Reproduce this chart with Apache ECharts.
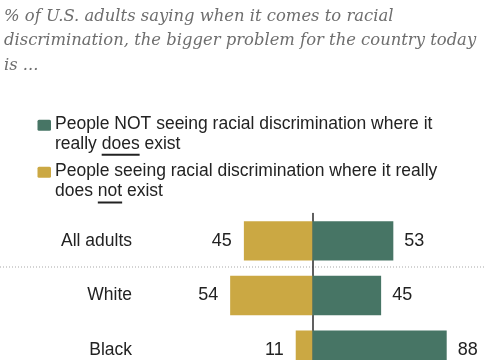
<!DOCTYPE html>
<html><head><meta charset="utf-8">
<script src="https://cdn.jsdelivr.net/npm/echarts@6/dist/echarts.min.js"></script>
<style>html,body{margin:0;padding:0;background:#fff}#c{width:485px;height:360px}</style>
</head><body><div id="c"></div>
<script>
// ---- data ----
const categories = ['All adults', 'White', 'Black'];
const notSeeing = [53, 45, 88];   // green: NOT seeing discrimination where it does exist
const seeing = [45, 54, 11];      // gold: seeing discrimination where it does not exist
const titleLines = [
  '% of U.S. adults saying when it comes to racial',
  'discrimination, the bigger problem for the country today',
  'is ...'
];
const legendNotSeeing = ['People NOT seeing racial discrimination where it', 'really ', 'does', ' exist'];
const legendSeeing = ['People seeing racial discrimination where it really', 'does ', 'not', ' exist'];

// ---- styles ----
const GREEN = '#477565', GOLD = '#cba843', INK = '#222';
const SANS = '"Liberation Sans", Arial, sans-serif';
const SERIF = '"DejaVu Serif", Georgia, serif';

const ctx = document.createElement('canvas').getContext('2d');
function tw(text, font) { ctx.font = font; return ctx.measureText(text).width; }

const titleFs = Math.round(16 * 473 / tw(titleLines[1], 'italic 16px ' + SERIF) * 10) / 10;
const LEG_FS = 17.5;
const legFont = LEG_FS + 'px ' + SANS;
const LEG_X = 55;

function legendItem(lines, color, top, underlineY) {
  const ux = LEG_X + tw(lines[1], legFont);
  const uw = tw(lines[2], legFont);
  return [
    { type: 'rect', left: 37.5, top: top + 5.5, shape: { width: 13.5, height: 11, r: 1.5 }, style: { fill: color } },
    { type: 'text', x: LEG_X, y: top, style: {
        text: lines[0] + '\n' + lines[1] + lines[2] + lines[3],
        font: legFont, lineHeight: 20, fill: INK, verticalAlign: 'top', align: 'left' } },
    { type: 'line', shape: { x1: ux, y1: underlineY, x2: ux + uw, y2: underlineY }, style: { stroke: INK, lineWidth: 2 } }
  ];
}

const chart = echarts.init(document.getElementById('c'), null, { renderer: 'canvas' });
chart.setOption({
  backgroundColor: '#fff',
  animation: false,
  title: {
    text: titleLines.join('\n'),
    left: 4, top: 4.25, padding: 0,
    textStyle: { fontFamily: SERIF, fontStyle: 'italic', fontWeight: 'normal', fontSize: titleFs, lineHeight: 24.5, color: '#6e6e6e' }
  },
  graphic: [
    ...legendItem(legendNotSeeing, GREEN, 114.2, 154.7),
    ...legendItem(legendSeeing, GOLD, 161.2, 202.5),
    { type: 'line', shape: { x1: 0, y1: 267, x2: 485, y2: 267 }, style: { stroke: '#a8a8a8', lineWidth: 1.2, lineDash: [1, 2] } }
  ],
  grid: { left: 160, right: 20, top: 213.5, height: 164, containLabel: false, outerBoundsMode: 'none' },
  xAxis: { type: 'value', min: -100, max: 100, show: false, splitLine: { show: false } },
  yAxis: [
    {
      type: 'category', data: categories, inverse: true, position: 'left',
      axisLine: { show: false, onZero: false },
      axisTick: { show: false },
      axisLabel: { margin: 28, fontFamily: SANS, fontSize: 17.5, color: INK }
    },
    {
      type: 'category', data: categories, inverse: true,
      axisLine: { show: true, onZero: true, lineStyle: { color: '#2b2b2b', width: 1.5 } },
      axisTick: { show: false },
      axisLabel: { show: false }
    }
  ],
  series: [
    {
      name: 'People seeing racial discrimination where it really does not exist',
      type: 'bar', barWidth: '72%', barGap: '-100%', yAxisIndex: 0,
      data: seeing.map(v => -v),
      itemStyle: { color: GOLD },
      label: { show: true, position: 'left', distance: 12, fontFamily: SANS, fontSize: 18, color: INK,
               formatter: p => String(Math.abs(p.value)) }
    },
    {
      name: 'People NOT seeing racial discrimination where it really does exist',
      type: 'bar', barWidth: '72%', barGap: '-100%', yAxisIndex: 0,
      data: notSeeing,
      itemStyle: { color: GREEN },
      label: { show: true, position: 'right', distance: 11, fontFamily: SANS, fontSize: 18, color: INK }
    }
  ]
});
</script>
</body></html>
